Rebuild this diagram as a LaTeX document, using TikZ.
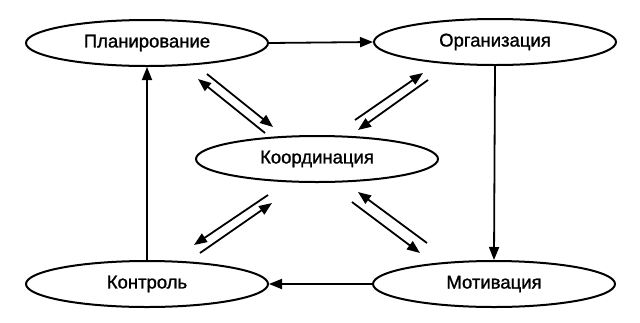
\documentclass[tikz,border=0pt]{standalone}
\usepackage{fontspec}
\setmainfont{Liberation Sans}[FakeBold=1.2]
\usetikzlibrary{shapes.geometric,arrows.meta}
\begin{document}
\begin{tikzpicture}[x=1pt,y=-1pt,
  stage/.style={ellipse,draw,line width=2pt,minimum width=242pt,minimum height=46pt,inner sep=0pt,font=\fontsize{18.5}{22}\selectfont},
  link/.style={line width=1.8pt,-{Triangle[length=13pt,width=10pt]}}]
\useasboundingbox (0,0) rectangle (640,322);
\node[stage] (p) at (147,43) {Планирование};
\node[stage] (o) at (495,42) {Организация};
\node[stage] (c) at (317,159) {Координация};
\node[stage] (k) at (147,284) {Контроль};
\node[stage] (m) at (494,284) {Мотивация};
\draw[link] (p.east) -- (o.west);
\draw[link] (o.south) -- (m.north);
\draw[link] (m.west) -- (k.east);
\draw[link] (k.north) -- (p.south);
% upper left pair
\coordinate (a1) at (207,74); \coordinate (a2) at (273,127);
\coordinate (a3) at (265,133); \coordinate (a4) at (198,79);
\draw[link] (a1) -- (a2);
\draw[link] (a3) -- (a4);
% upper right pair
\coordinate (b1) at (355,120); \coordinate (b2) at (423,73);
\coordinate (b3) at (428,80); \coordinate (b4) at (358,130);
\draw[link] (b1) -- (b2);
\draw[link] (b3) -- (b4);
% lower left pair
\coordinate (c1) at (268,195); \coordinate (c2) at (194,245);
\coordinate (c3) at (200,253); \coordinate (c4) at (272,203);
\draw[link] (c1) -- (c2);
\draw[link] (c3) -- (c4);
% lower right pair
\coordinate (d1) at (427,243); \coordinate (d2) at (358,192);
\coordinate (d3) at (352,202); \coordinate (d4) at (420,253);
\draw[link] (d1) -- (d2);
\draw[link] (d3) -- (d4);
\end{tikzpicture}
\end{document}
